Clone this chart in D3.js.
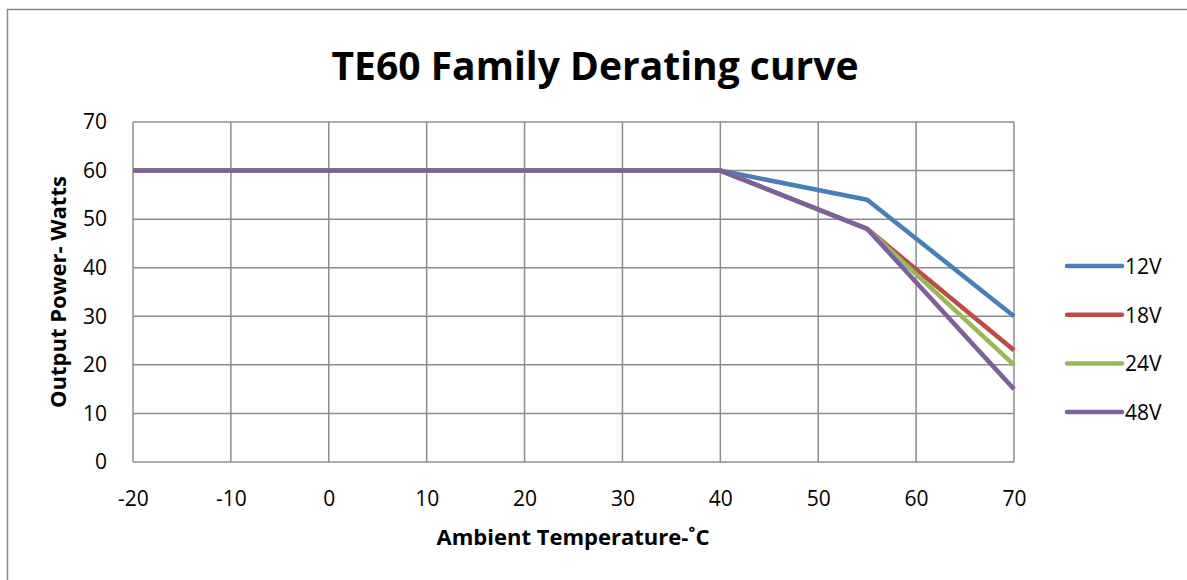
<!DOCTYPE html>
<html>
<head>
<meta charset="utf-8">
<script src="https://cdn.jsdelivr.net/npm/d3@7"></script>
<style>
  body { margin: 0; background: #fff; }
  text { font-family: "Open Sans", "Noto Sans", sans-serif; }
</style>
</head>
<body>
<div class="chart"></div>
<script>
let FRAME_WIDTH = 1187;
let FRAME_HEIGHT = 580;
let MARGINS = {left: 133, right: 173, top: 122, bottom: 118};

// data
let temps = [-20, 40, 55, 70];
let series_names = ["12V", "18V", "24V", "48V"];
let v12 = [60, 60, 54, 30];
let v18 = [60, 60, 48, 23];
let v24 = [60, 60, 48, 20];
let v48 = [60, 60, 48, 15];
let colors = ["#4a7ebb", "#be4b48", "#98b954", "#7d60a0"];
let x_ticks = [-20, -10, 0, 10, 20, 30, 40, 50, 60, 70];
let y_ticks = [0, 10, 20, 30, 40, 50, 60, 70];

let PLOT_WIDTH = FRAME_WIDTH - MARGINS.left - MARGINS.right;
let PLOT_HEIGHT = FRAME_HEIGHT - MARGINS.top - MARGINS.bottom;

let FRAME = d3.select(".chart")
              .append("svg")
              .attr("width", FRAME_WIDTH)
              .attr("height", FRAME_HEIGHT);

// outer chart border
FRAME.append("rect")
     .attr("x", 7.5).attr("y", 9.5)
     .attr("width", FRAME_WIDTH + 20).attr("height", FRAME_HEIGHT + 20)
     .attr("fill", "none")
     .attr("stroke", "#888")
     .attr("stroke-width", 1.5);

const X_SCALE = d3.scaleLinear().domain([-20, 70]).range([0, PLOT_WIDTH]);
const Y_SCALE = d3.scaleLinear().domain([0, 70]).range([PLOT_HEIGHT, 0]);

let plot = FRAME.append("g")
                .attr("transform", "translate(" + MARGINS.left + "," + MARGINS.top + ")");

// gridlines
plot.selectAll(".vgrid")
    .data(x_ticks)
    .enter()
    .append("line")
      .attr("x1", d => X_SCALE(d)).attr("x2", d => X_SCALE(d))
      .attr("y1", 0).attr("y2", PLOT_HEIGHT)
      .attr("stroke", "#8c8c8c").attr("stroke-width", 1.5);

plot.selectAll(".hgrid")
    .data(y_ticks)
    .enter()
    .append("line")
      .attr("x1", 0).attr("x2", PLOT_WIDTH)
      .attr("y1", d => Y_SCALE(d)).attr("y2", d => Y_SCALE(d))
      .attr("stroke", "#8c8c8c").attr("stroke-width", 1.5);

// axes (labels only, no tick marks), plain hyphen for negatives
let x_axis = plot.append("g")
    .attr("transform", "translate(0," + PLOT_HEIGHT + ")")
    .call(d3.axisBottom(X_SCALE).tickValues(x_ticks).tickSize(0).tickPadding(29)
            .tickFormat(d => String(d)));
let y_axis = plot.append("g")
    .call(d3.axisLeft(Y_SCALE).tickValues(y_ticks).tickSize(0).tickPadding(26)
            .tickFormat(d => String(d)));
[x_axis, y_axis].forEach(a => {
  a.select(".domain").remove();
  a.selectAll("text")
   .attr("font-family", "'Open Sans', sans-serif")
   .attr("font-size", "21px")
   .attr("fill", "#000");
});

// lines
let all_values = [v12, v18, v24, v48];
let line = d3.line()
             .x((d, i) => X_SCALE(temps[i]))
             .y(d => Y_SCALE(d));

plot.selectAll(".series")
    .data(all_values)
    .enter()
    .append("path")
      .attr("d", d => line(d))
      .attr("fill", "none")
      .attr("stroke", (d, i) => colors[i])
      .attr("stroke-width", 4.5)
      .attr("stroke-linejoin", "round");

// legend
let legend = FRAME.selectAll(".legend")
    .data(series_names)
    .enter()
    .append("g")
      .attr("transform", (d, i) => "translate(1067," + (266 + i * 48.7) + ")");
legend.append("line")
      .attr("x1", 0).attr("x2", 55)
      .attr("stroke", (d, i) => colors[i])
      .attr("stroke-width", 4.5)
      .attr("stroke-linecap", "round");
legend.append("text")
      .attr("x", 58).attr("y", 8)
      .attr("font-size", "21px")
      .text(d => d);

// title
FRAME.append("text")
     .attr("x", 595).attr("y", 80)
     .attr("text-anchor", "middle")
     .attr("font-size", "39px")
     .attr("font-weight", "bold")
     .text("TE60 Family Derating curve");

// axis titles
FRAME.append("text")
     .attr("x", 573)
     .attr("y", 545)
     .attr("text-anchor", "middle")
     .attr("font-size", "22px")
     .attr("font-weight", "bold")
     .text("Ambient Temperature-˚C");

FRAME.append("text")
     .attr("transform", "translate(66,292) rotate(-90)")
     .attr("text-anchor", "middle")
     .attr("font-size", "22px")
     .attr("font-weight", "bold")
     .text("Output Power- Watts");
</script>
</body>
</html>
